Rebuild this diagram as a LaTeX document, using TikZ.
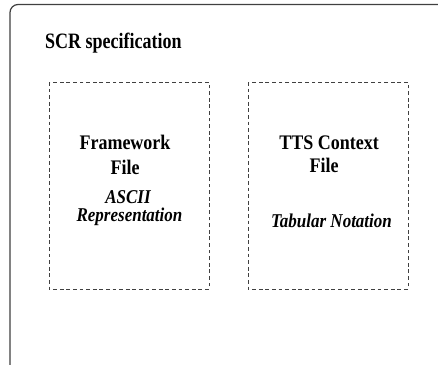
\documentclass[tikz,border=0pt]{standalone}
\usepackage{fontspec}
\setmainfont{Liberation Serif}
\begin{document}
\begin{tikzpicture}[x=1bp,y=-1bp,
  outerbox/.style={draw=black!75,line width=1.2bp,rounded corners=8bp},
  filebox/.style={draw=black!75,line width=1bp,dash pattern=on 3.8bp off 2.8bp},
  btxt/.style={anchor=base,inner sep=0pt,font=\fontsize{18bp}{20bp}\selectfont\bfseries},
  itxt/.style={anchor=base,inner sep=0pt,font=\fontsize{17bp}{19bp}\selectfont\bfseries\itshape},
  ttl/.style={anchor=base west,inner sep=0pt,font=\fontsize{18bp}{20bp}\selectfont\bfseries}]
\useasboundingbox (0,0) rectangle (438,364);
\clip (0,0) rectangle (438,364);
\fill[white] (0,0) rectangle (438,364);
\draw[outerbox] (10,4.5) rectangle (460,380);
\node[ttl] (title) at (45,48) {\scalebox{1}[1.22]{SCR specification}};
\draw[filebox] (49,82) rectangle (209,289);
\draw[filebox] (248,82) rectangle (408,289);
\node[btxt] (fw) at (125,149.5) {\scalebox{1}[1.15]{Framework}};
\node[btxt] (ffile) at (125,174) {\scalebox{1}[1.15]{File}};
\node[itxt] (ascii) at (128,203) {\scalebox{1}[1.15]{ASCII}};
\node[itxt] (repr) at (129.5,221) {\scalebox{1}[1.15]{Representation}};
\node[btxt] (tts) at (329,149.5) {\scalebox{1}[1.15]{TTS Context}};
\node[btxt] (tfile) at (324,172) {\scalebox{1}[1.15]{File}};
\node[itxt] (tab) at (331.5,227) {\scalebox{1}[1.15]{Tabular Notation}};
\end{tikzpicture}
\end{document}
